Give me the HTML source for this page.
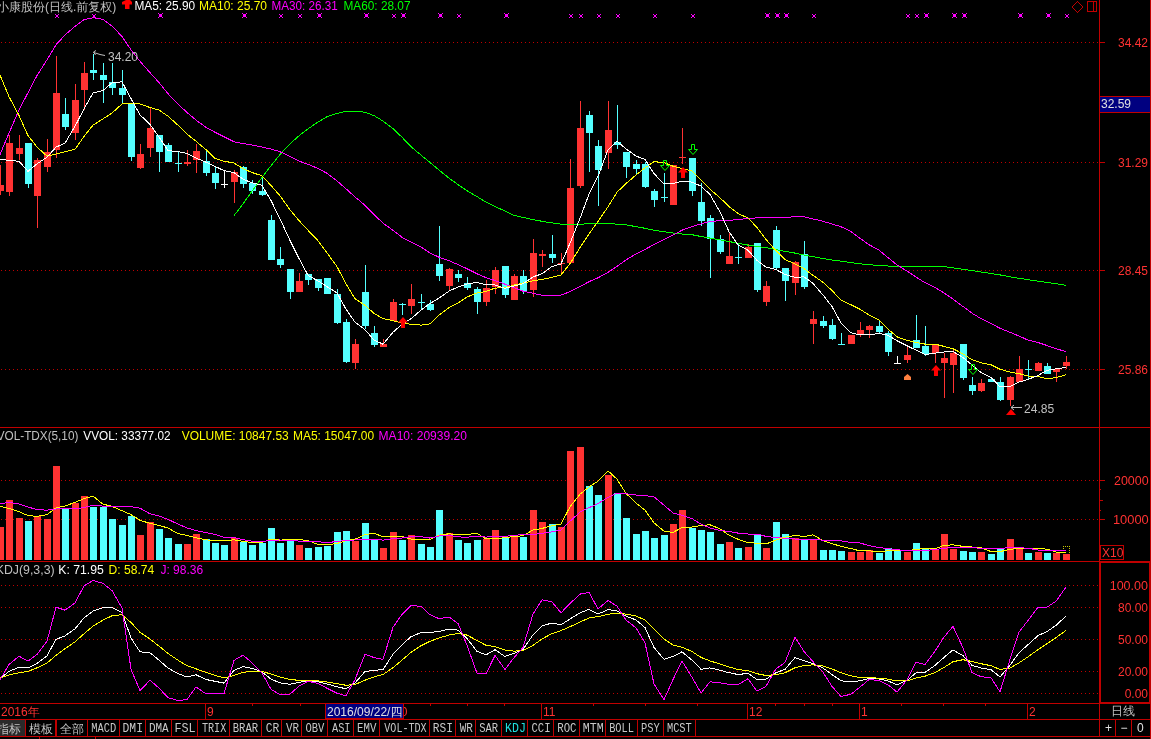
<!DOCTYPE html>
<html><head><meta charset="utf-8"><title>小康股份</title>
<style>
html,body{margin:0;padding:0;background:#000;}
body{width:1151px;height:739px;overflow:hidden;position:relative;}
svg{position:absolute;left:0;top:0;display:block;}
text{-webkit-font-smoothing:antialiased;font-family:"Liberation Sans","WenQuanYi Zen Hei",sans-serif;font-size:12px;}
.cjk,.cjk text{-webkit-font-smoothing:antialiased;font-family:"Liberation Sans","WenQuanYi Zen Hei",sans-serif;}
.tab text{-webkit-font-smoothing:antialiased;font-family:"Liberation Mono","WenQuanYi Zen Hei",monospace;font-size:10px;}
</style></head><body>
<svg width="1151" height="739" viewBox="0 0 1151 739">
<rect x="0" y="0" width="1151" height="739" fill="#000"/>
<g shape-rendering="crispEdges">
<line x1="1" y1="42.5" x2="1099" y2="42.5" stroke="#c00000" stroke-dasharray="1 3"/>
<line x1="1" y1="162.5" x2="1099" y2="162.5" stroke="#c00000" stroke-dasharray="1 3"/>
<line x1="1" y1="270.5" x2="1099" y2="270.5" stroke="#c00000" stroke-dasharray="1 3"/>
<line x1="1" y1="369.5" x2="1099" y2="369.5" stroke="#c00000" stroke-dasharray="1 3"/>
<rect x="0" y="165" width="1" height="30" fill="#ff3232"/>
<rect x="-3" y="185" width="7" height="6" fill="#ff3232"/>
<rect x="9" y="135" width="1" height="61" fill="#ff3232"/>
<rect x="6" y="143" width="7" height="49" fill="#ff3232"/>
<rect x="19" y="135" width="1" height="25" fill="#ff3232"/>
<rect x="16" y="148" width="7" height="6" fill="#ff3232"/>
<rect x="28" y="143" width="1" height="45" fill="#54ffff"/>
<rect x="25" y="143" width="7" height="41" fill="#54ffff"/>
<rect x="37" y="158" width="1" height="70" fill="#ff3232"/>
<rect x="34" y="160" width="7" height="36" fill="#ff3232"/>
<rect x="47" y="139" width="1" height="33" fill="#ff3232"/>
<rect x="44" y="152" width="7" height="15" fill="#ff3232"/>
<rect x="56" y="56" width="1" height="102" fill="#ff3232"/>
<rect x="53" y="93" width="7" height="57" fill="#ff3232"/>
<rect x="65" y="98" width="1" height="32" fill="#54ffff"/>
<rect x="62" y="114" width="7" height="13" fill="#54ffff"/>
<rect x="75" y="84" width="1" height="56" fill="#ff3232"/>
<rect x="72" y="100" width="7" height="33" fill="#ff3232"/>
<rect x="84" y="62" width="1" height="48" fill="#ff3232"/>
<rect x="81" y="73" width="7" height="17" fill="#ff3232"/>
<rect x="93" y="54" width="1" height="26" fill="#54ffff"/>
<rect x="90" y="70" width="7" height="3" fill="#54ffff"/>
<rect x="103" y="63" width="1" height="40" fill="#54ffff"/>
<rect x="100" y="75" width="7" height="5" fill="#54ffff"/>
<rect x="112" y="63" width="1" height="32" fill="#54ffff"/>
<rect x="109" y="82" width="7" height="6" fill="#54ffff"/>
<rect x="122" y="70" width="1" height="34" fill="#54ffff"/>
<rect x="119" y="88" width="7" height="7" fill="#54ffff"/>
<rect x="131" y="104" width="1" height="57" fill="#54ffff"/>
<rect x="128" y="104" width="7" height="53" fill="#54ffff"/>
<rect x="140" y="144" width="1" height="25" fill="#ff3232"/>
<rect x="137" y="154" width="7" height="14" fill="#ff3232"/>
<rect x="150" y="107" width="1" height="50" fill="#ff3232"/>
<rect x="147" y="128" width="7" height="20" fill="#ff3232"/>
<rect x="159" y="135" width="1" height="37" fill="#54ffff"/>
<rect x="156" y="135" width="7" height="17" fill="#54ffff"/>
<rect x="168" y="143" width="1" height="19" fill="#54ffff"/>
<rect x="165" y="145" width="7" height="17" fill="#54ffff"/>
<rect x="178" y="152" width="1" height="20" fill="#54ffff"/>
<rect x="175" y="163" width="7" height="1" fill="#54ffff"/>
<rect x="187" y="150" width="1" height="16" fill="#ff3232"/>
<rect x="184" y="162" width="7" height="2" fill="#ff3232"/>
<rect x="196" y="144" width="1" height="29" fill="#ff3232"/>
<rect x="193" y="151" width="7" height="9" fill="#ff3232"/>
<rect x="206" y="151" width="1" height="25" fill="#54ffff"/>
<rect x="203" y="161" width="7" height="12" fill="#54ffff"/>
<rect x="215" y="167" width="1" height="22" fill="#54ffff"/>
<rect x="212" y="173" width="7" height="10" fill="#54ffff"/>
<rect x="224" y="170" width="1" height="18" fill="#ffffff"/>
<rect x="221" y="184" width="7" height="1" fill="#ffffff"/>
<rect x="234" y="170" width="1" height="33" fill="#ff3232"/>
<rect x="231" y="172" width="7" height="10" fill="#ff3232"/>
<rect x="243" y="166" width="1" height="22" fill="#54ffff"/>
<rect x="240" y="167" width="7" height="17" fill="#54ffff"/>
<rect x="252" y="180" width="1" height="14" fill="#54ffff"/>
<rect x="249" y="183" width="7" height="8" fill="#54ffff"/>
<rect x="262" y="177" width="1" height="19" fill="#54ffff"/>
<rect x="259" y="191" width="7" height="4" fill="#54ffff"/>
<rect x="271" y="215" width="1" height="45" fill="#54ffff"/>
<rect x="268" y="220" width="7" height="40" fill="#54ffff"/>
<rect x="280" y="247" width="1" height="21" fill="#54ffff"/>
<rect x="277" y="259" width="7" height="6" fill="#54ffff"/>
<rect x="290" y="269" width="1" height="30" fill="#54ffff"/>
<rect x="287" y="269" width="7" height="23" fill="#54ffff"/>
<rect x="299" y="273" width="1" height="19" fill="#ff3232"/>
<rect x="296" y="281" width="7" height="11" fill="#ff3232"/>
<rect x="308" y="274" width="1" height="11" fill="#54ffff"/>
<rect x="305" y="274" width="7" height="6" fill="#54ffff"/>
<rect x="318" y="279" width="1" height="12" fill="#54ffff"/>
<rect x="315" y="279" width="7" height="9" fill="#54ffff"/>
<rect x="327" y="278" width="1" height="16" fill="#54ffff"/>
<rect x="324" y="278" width="7" height="16" fill="#54ffff"/>
<rect x="337" y="289" width="1" height="35" fill="#54ffff"/>
<rect x="334" y="294" width="7" height="29" fill="#54ffff"/>
<rect x="346" y="319" width="1" height="44" fill="#54ffff"/>
<rect x="343" y="322" width="7" height="40" fill="#54ffff"/>
<rect x="355" y="339" width="1" height="30" fill="#ff3232"/>
<rect x="352" y="344" width="7" height="19" fill="#ff3232"/>
<rect x="365" y="265" width="1" height="64" fill="#54ffff"/>
<rect x="362" y="292" width="7" height="34" fill="#54ffff"/>
<rect x="374" y="326" width="1" height="21" fill="#54ffff"/>
<rect x="371" y="333" width="7" height="12" fill="#54ffff"/>
<rect x="383" y="339" width="1" height="8" fill="#ff3232"/>
<rect x="380" y="344" width="7" height="3" fill="#ff3232"/>
<rect x="393" y="299" width="1" height="22" fill="#ff3232"/>
<rect x="390" y="302" width="7" height="19" fill="#ff3232"/>
<rect x="402" y="303" width="1" height="12" fill="#54ffff"/>
<rect x="399" y="304" width="7" height="1" fill="#54ffff"/>
<rect x="411" y="284" width="1" height="30" fill="#ff3232"/>
<rect x="408" y="299" width="7" height="7" fill="#ff3232"/>
<rect x="421" y="294" width="1" height="16" fill="#54ffff"/>
<rect x="418" y="302" width="7" height="1" fill="#54ffff"/>
<rect x="430" y="300" width="1" height="11" fill="#54ffff"/>
<rect x="427" y="304" width="7" height="6" fill="#54ffff"/>
<rect x="439" y="226" width="1" height="55" fill="#54ffff"/>
<rect x="436" y="264" width="7" height="12" fill="#54ffff"/>
<rect x="449" y="268" width="1" height="22" fill="#ff3232"/>
<rect x="446" y="269" width="7" height="17" fill="#ff3232"/>
<rect x="458" y="270" width="1" height="12" fill="#54ffff"/>
<rect x="455" y="274" width="7" height="4" fill="#54ffff"/>
<rect x="467" y="277" width="1" height="13" fill="#54ffff"/>
<rect x="464" y="283" width="7" height="5" fill="#54ffff"/>
<rect x="477" y="287" width="1" height="27" fill="#54ffff"/>
<rect x="474" y="289" width="7" height="13" fill="#54ffff"/>
<rect x="486" y="280" width="1" height="26" fill="#ff3232"/>
<rect x="483" y="288" width="7" height="14" fill="#ff3232"/>
<rect x="495" y="267" width="1" height="27" fill="#ff3232"/>
<rect x="492" y="270" width="7" height="17" fill="#ff3232"/>
<rect x="505" y="266" width="1" height="32" fill="#54ffff"/>
<rect x="502" y="266" width="7" height="29" fill="#54ffff"/>
<rect x="514" y="274" width="1" height="26" fill="#ff3232"/>
<rect x="511" y="276" width="7" height="24" fill="#ff3232"/>
<rect x="523" y="270" width="1" height="24" fill="#54ffff"/>
<rect x="520" y="276" width="7" height="15" fill="#54ffff"/>
<rect x="533" y="239" width="1" height="58" fill="#ff3232"/>
<rect x="530" y="253" width="7" height="37" fill="#ff3232"/>
<rect x="542" y="250" width="1" height="17" fill="#ff3232"/>
<rect x="539" y="254" width="7" height="2" fill="#ff3232"/>
<rect x="552" y="235" width="1" height="28" fill="#54ffff"/>
<rect x="549" y="254" width="7" height="4" fill="#54ffff"/>
<rect x="561" y="253" width="1" height="20" fill="#ff3232"/>
<rect x="558" y="263" width="7" height="1" fill="#ff3232"/>
<rect x="570" y="159" width="1" height="104" fill="#ff3232"/>
<rect x="567" y="188" width="7" height="75" fill="#ff3232"/>
<rect x="580" y="101" width="1" height="87" fill="#ff3232"/>
<rect x="577" y="128" width="7" height="58" fill="#ff3232"/>
<rect x="589" y="111" width="1" height="61" fill="#54ffff"/>
<rect x="586" y="115" width="7" height="18" fill="#54ffff"/>
<rect x="598" y="140" width="1" height="66" fill="#54ffff"/>
<rect x="595" y="146" width="7" height="24" fill="#54ffff"/>
<rect x="608" y="101" width="1" height="68" fill="#ff3232"/>
<rect x="605" y="130" width="7" height="23" fill="#ff3232"/>
<rect x="617" y="105" width="1" height="44" fill="#54ffff"/>
<rect x="614" y="142" width="7" height="3" fill="#54ffff"/>
<rect x="626" y="152" width="1" height="26" fill="#54ffff"/>
<rect x="623" y="152" width="7" height="15" fill="#54ffff"/>
<rect x="636" y="160" width="1" height="15" fill="#54ffff"/>
<rect x="633" y="164" width="7" height="5" fill="#54ffff"/>
<rect x="645" y="162" width="1" height="26" fill="#54ffff"/>
<rect x="642" y="164" width="7" height="23" fill="#54ffff"/>
<rect x="654" y="189" width="1" height="18" fill="#54ffff"/>
<rect x="651" y="191" width="7" height="9" fill="#54ffff"/>
<rect x="664" y="173" width="1" height="29" fill="#54ffff"/>
<rect x="661" y="197" width="7" height="1" fill="#54ffff"/>
<rect x="673" y="165" width="1" height="40" fill="#ff3232"/>
<rect x="670" y="165" width="7" height="40" fill="#ff3232"/>
<rect x="682" y="128" width="1" height="36" fill="#ff3232"/>
<rect x="679" y="157" width="7" height="1" fill="#ff3232"/>
<rect x="692" y="158" width="1" height="38" fill="#54ffff"/>
<rect x="689" y="158" width="7" height="33" fill="#54ffff"/>
<rect x="701" y="183" width="1" height="43" fill="#54ffff"/>
<rect x="698" y="202" width="7" height="19" fill="#54ffff"/>
<rect x="710" y="215" width="1" height="63" fill="#54ffff"/>
<rect x="707" y="218" width="7" height="21" fill="#54ffff"/>
<rect x="720" y="235" width="1" height="19" fill="#54ffff"/>
<rect x="717" y="239" width="7" height="13" fill="#54ffff"/>
<rect x="729" y="233" width="1" height="31" fill="#ff3232"/>
<rect x="726" y="256" width="7" height="8" fill="#ff3232"/>
<rect x="738" y="244" width="1" height="20" fill="#54ffff"/>
<rect x="735" y="257" width="7" height="1" fill="#54ffff"/>
<rect x="748" y="244" width="1" height="14" fill="#ff3232"/>
<rect x="745" y="247" width="7" height="11" fill="#ff3232"/>
<rect x="757" y="243" width="1" height="49" fill="#54ffff"/>
<rect x="754" y="243" width="7" height="47" fill="#54ffff"/>
<rect x="766" y="281" width="1" height="25" fill="#ff3232"/>
<rect x="763" y="286" width="7" height="16" fill="#ff3232"/>
<rect x="776" y="226" width="1" height="44" fill="#54ffff"/>
<rect x="773" y="230" width="7" height="38" fill="#54ffff"/>
<rect x="785" y="268" width="1" height="33" fill="#54ffff"/>
<rect x="782" y="268" width="7" height="13" fill="#54ffff"/>
<rect x="795" y="261" width="1" height="34" fill="#ff3232"/>
<rect x="792" y="262" width="7" height="21" fill="#ff3232"/>
<rect x="804" y="241" width="1" height="48" fill="#54ffff"/>
<rect x="801" y="254" width="7" height="33" fill="#54ffff"/>
<rect x="813" y="311" width="1" height="33" fill="#ff3232"/>
<rect x="810" y="319" width="7" height="5" fill="#ff3232"/>
<rect x="823" y="316" width="1" height="12" fill="#54ffff"/>
<rect x="820" y="321" width="7" height="5" fill="#54ffff"/>
<rect x="832" y="319" width="1" height="21" fill="#54ffff"/>
<rect x="829" y="325" width="7" height="14" fill="#54ffff"/>
<rect x="841" y="333" width="1" height="12" fill="#54ffff"/>
<rect x="838" y="344" width="7" height="1" fill="#54ffff"/>
<rect x="851" y="335" width="1" height="9" fill="#ff3232"/>
<rect x="848" y="335" width="7" height="9" fill="#ff3232"/>
<rect x="860" y="322" width="1" height="15" fill="#ff3232"/>
<rect x="857" y="330" width="7" height="5" fill="#ff3232"/>
<rect x="869" y="325" width="1" height="13" fill="#ff3232"/>
<rect x="866" y="326" width="7" height="4" fill="#ff3232"/>
<rect x="879" y="321" width="1" height="12" fill="#54ffff"/>
<rect x="876" y="326" width="7" height="6" fill="#54ffff"/>
<rect x="888" y="331" width="1" height="25" fill="#54ffff"/>
<rect x="885" y="333" width="7" height="19" fill="#54ffff"/>
<rect x="897" y="356" width="1" height="8" fill="#ffffff"/>
<rect x="894" y="363" width="7" height="1" fill="#ffffff"/>
<rect x="907" y="346" width="1" height="17" fill="#ff3232"/>
<rect x="904" y="355" width="7" height="5" fill="#ff3232"/>
<rect x="916" y="315" width="1" height="33" fill="#54ffff"/>
<rect x="913" y="340" width="7" height="8" fill="#54ffff"/>
<rect x="925" y="326" width="1" height="30" fill="#54ffff"/>
<rect x="922" y="346" width="7" height="8" fill="#54ffff"/>
<rect x="935" y="345" width="1" height="18" fill="#ff3232"/>
<rect x="932" y="345" width="7" height="8" fill="#ff3232"/>
<rect x="944" y="353" width="1" height="45" fill="#ff3232"/>
<rect x="941" y="358" width="7" height="5" fill="#ff3232"/>
<rect x="953" y="350" width="1" height="43" fill="#ff3232"/>
<rect x="950" y="353" width="7" height="12" fill="#ff3232"/>
<rect x="963" y="344" width="1" height="36" fill="#54ffff"/>
<rect x="960" y="344" width="7" height="34" fill="#54ffff"/>
<rect x="972" y="377" width="1" height="18" fill="#54ffff"/>
<rect x="969" y="385" width="7" height="6" fill="#54ffff"/>
<rect x="981" y="379" width="1" height="13" fill="#ff3232"/>
<rect x="978" y="383" width="7" height="8" fill="#ff3232"/>
<rect x="991" y="378" width="1" height="4" fill="#54ffff"/>
<rect x="988" y="379" width="7" height="3" fill="#54ffff"/>
<rect x="1000" y="377" width="1" height="24" fill="#54ffff"/>
<rect x="997" y="382" width="7" height="18" fill="#54ffff"/>
<rect x="1010" y="376" width="1" height="30" fill="#ff3232"/>
<rect x="1007" y="377" width="7" height="23" fill="#ff3232"/>
<rect x="1019" y="356" width="1" height="26" fill="#ff3232"/>
<rect x="1016" y="369" width="7" height="13" fill="#ff3232"/>
<rect x="1028" y="360" width="1" height="20" fill="#54ffff"/>
<rect x="1025" y="369" width="7" height="1" fill="#54ffff"/>
<rect x="1038" y="362" width="1" height="9" fill="#ff3232"/>
<rect x="1035" y="363" width="7" height="8" fill="#ff3232"/>
<rect x="1047" y="363" width="1" height="11" fill="#54ffff"/>
<rect x="1044" y="366" width="7" height="8" fill="#54ffff"/>
<rect x="1056" y="369" width="1" height="13" fill="#ff3232"/>
<rect x="1053" y="369" width="7" height="3" fill="#ff3232"/>
<rect x="1066" y="356" width="1" height="13" fill="#ff3232"/>
<rect x="1063" y="362" width="7" height="4" fill="#ff3232"/>
<polyline points="234.0,215.6 243.0,203.9 252.0,191.2 262.0,177.4 271.0,165.7 280.0,154.5 290.0,143.8 299.0,135.8 308.0,128.9 318.0,122.0 327.0,116.7 337.0,113.4 346.0,111.4 355.0,111.4 365.0,112.2 374.0,115.6 383.0,121.0 393.0,128.7 402.0,137.2 411.0,146.7 421.0,155.1 430.0,162.5 439.0,170.1 449.0,178.1 458.0,184.6 467.0,190.7 477.0,196.6 486.0,202.1 495.0,206.5 505.0,211.1 514.0,215.3 523.0,217.4 533.0,219.6 542.0,221.3 552.0,222.9 561.0,224.1 570.0,224.6 580.0,224.4 589.0,223.6 598.0,223.5 608.0,223.7 617.0,224.1 626.0,224.9 636.0,226.6 645.0,228.3 654.0,230.2 664.0,231.8 673.0,233.0 682.0,234.0 692.0,234.7 701.0,236.5 710.0,238.1 720.0,239.8 729.0,241.5 738.0,243.3 748.0,245.1 757.0,246.4 766.0,247.7 776.0,249.6 785.0,251.4 795.0,253.1 804.0,255.0 813.0,256.7 823.0,258.5 832.0,260.0 841.0,261.2 851.0,262.6 860.0,263.8 869.0,264.7 879.0,265.5 888.0,266.0 897.0,266.3 907.0,266.3 916.0,266.3 925.0,266.3 935.0,266.3 944.0,266.7 953.0,267.8 963.0,269.3 972.0,270.6 981.0,272.0 991.0,273.5 1000.0,274.9 1010.0,276.8 1019.0,278.3 1028.0,279.7 1038.0,281.1 1047.0,282.4 1056.0,283.7 1066.0,285.3" fill="none" stroke="#00ff00" stroke-width="1" />
<polyline points="-6.0,168.7 0.0,154.5 9.0,133.1 19.0,109.9 28.0,92.7 37.0,75.6 47.0,59.8 56.0,44.8 65.0,35.0 75.0,26.4 84.0,19.6 93.0,17.7 103.0,19.4 112.0,26.1 122.0,36.4 131.0,49.8 140.0,61.3 150.0,72.7 159.0,82.6 168.0,93.7 178.0,104.1 187.0,112.5 196.0,120.1 206.0,127.3 215.0,132.3 224.0,136.8 234.0,141.8 243.0,143.5 252.0,145.0 262.0,147.1 271.0,149.0 280.0,151.7 290.0,156.6 299.0,161.1 308.0,164.3 318.0,168.5 327.0,173.3 337.0,180.9 346.0,188.8 355.0,196.9 365.0,205.3 374.0,214.4 383.0,223.2 393.0,230.3 402.0,237.3 411.0,242.0 421.0,247.0 430.0,253.0 439.0,257.2 449.0,260.7 458.0,264.6 467.0,268.7 477.0,273.8 486.0,277.6 495.0,280.5 505.0,284.2 514.0,287.6 523.0,291.2 533.0,293.3 542.0,295.2 552.0,295.2 561.0,295.1 570.0,291.7 580.0,286.6 589.0,281.7 598.0,277.8 608.0,272.3 617.0,266.4 626.0,259.9 636.0,254.0 645.0,249.4 654.0,244.6 664.0,239.7 673.0,235.1 682.0,230.2 692.0,226.6 701.0,223.9 710.0,221.5 720.0,220.7 729.0,220.3 738.0,219.6 748.0,218.3 757.0,217.9 766.0,217.8 776.0,217.7 785.0,217.3 795.0,216.8 804.0,216.7 813.0,218.9 823.0,221.3 832.0,224.0 841.0,226.7 851.0,231.6 860.0,238.3 869.0,244.7 879.0,250.2 888.0,257.6 897.0,264.9 907.0,271.1 916.0,277.1 925.0,282.7 935.0,287.5 944.0,292.9 953.0,299.1 963.0,306.5 972.0,313.2 981.0,318.6 991.0,323.4 1000.0,328.3 1010.0,332.3 1019.0,336.0 1028.0,340.1 1038.0,342.5 1047.0,345.5 1056.0,348.8 1066.0,351.5" fill="none" stroke="#ff00ff" stroke-width="1" />
<polyline points="-6.0,62.0 0.0,75.0 9.0,96.7 19.0,115.4 28.0,135.6 37.0,147.0 47.0,156.1 56.0,154.1 65.0,151.8 75.0,149.3 84.0,136.4 93.0,125.2 103.0,118.9 112.0,113.0 122.0,104.0 131.0,103.7 140.0,104.0 150.0,107.5 159.0,110.0 168.0,116.2 178.0,125.2 187.0,134.1 196.0,141.2 206.0,149.7 215.0,158.4 224.0,161.2 234.0,163.0 243.0,168.6 252.0,172.5 262.0,175.8 271.0,185.5 280.0,195.8 290.0,209.8 299.0,220.6 308.0,230.3 318.0,240.7 327.0,252.8 337.0,266.7 346.0,283.8 355.0,298.7 365.0,305.3 374.0,313.3 383.0,318.6 393.0,320.7 402.0,323.1 411.0,324.2 421.0,325.1 430.0,323.8 439.0,315.2 449.0,307.7 458.0,302.9 467.0,297.1 477.0,292.9 486.0,291.5 495.0,288.1 505.0,287.7 514.0,285.0 523.0,283.1 533.0,280.8 542.0,279.4 552.0,277.4 561.0,274.9 570.0,263.6 580.0,247.6 589.0,233.9 598.0,221.4 608.0,206.8 617.0,192.2 626.0,183.6 636.0,175.0 645.0,167.9 654.0,161.7 664.0,162.6 673.0,166.2 682.0,168.6 692.0,170.8 701.0,179.9 710.0,189.2 720.0,197.8 729.0,206.5 738.0,213.5 748.0,218.1 757.0,227.4 766.0,239.5 776.0,250.7 785.0,259.6 795.0,263.8 804.0,268.6 813.0,275.3 823.0,282.3 832.0,290.5 841.0,300.2 851.0,304.8 860.0,309.2 869.0,315.0 879.0,320.1 888.0,329.1 897.0,336.8 907.0,340.4 916.0,342.5 925.0,344.1 935.0,344.1 944.0,346.4 953.0,348.7 963.0,353.9 972.0,359.8 981.0,362.8 991.0,364.7 1000.0,369.2 1010.0,372.1 1019.0,373.6 1028.0,376.0 1038.0,376.5 1047.0,378.6 1056.0,377.7 1066.0,374.8" fill="none" stroke="#ffff00" stroke-width="1" />
<polyline points="-6.0,158.5 0.0,159.1 9.0,160.5 19.0,161.2 28.0,171.4 37.0,163.9 47.0,157.2 56.0,147.2 65.0,143.1 75.0,126.3 84.0,108.9 93.0,93.1 103.0,90.5 112.0,82.8 122.0,81.8 131.0,98.6 140.0,114.8 150.0,124.4 159.0,137.1 168.0,150.5 178.0,151.7 187.0,153.4 196.0,158.0 206.0,162.2 215.0,166.4 224.0,170.6 234.0,172.6 243.0,179.2 252.0,182.8 262.0,185.3 271.0,200.5 280.0,218.9 290.0,240.4 299.0,258.4 308.0,275.3 318.0,280.9 327.0,286.6 337.0,292.9 346.0,309.2 355.0,322.1 365.0,329.7 374.0,340.0 383.0,344.2 393.0,332.2 402.0,324.2 411.0,318.7 421.0,310.2 430.0,303.4 439.0,298.2 449.0,291.1 458.0,287.0 467.0,284.0 477.0,282.4 486.0,284.8 495.0,285.0 505.0,288.3 514.0,286.0 523.0,283.8 533.0,276.9 542.0,273.8 552.0,266.5 561.0,263.9 570.0,243.3 580.0,218.4 589.0,194.1 598.0,176.4 608.0,149.7 617.0,141.2 626.0,148.9 636.0,156.0 645.0,159.5 654.0,173.6 664.0,184.0 673.0,183.6 682.0,181.3 692.0,182.1 701.0,186.1 710.0,194.4 720.0,211.9 729.0,231.7 738.0,244.9 748.0,250.2 757.0,260.4 766.0,267.1 776.0,269.6 785.0,274.4 795.0,277.4 804.0,276.8 813.0,283.4 823.0,295.0 832.0,306.6 841.0,323.0 851.0,332.7 860.0,334.9 869.0,334.9 879.0,333.5 888.0,335.2 897.0,340.8 907.0,345.8 916.0,350.1 925.0,354.6 935.0,353.1 944.0,352.0 953.0,351.5 963.0,357.6 972.0,365.0 981.0,372.5 991.0,377.4 1000.0,386.8 1010.0,386.6 1019.0,382.1 1028.0,379.4 1038.0,375.5 1047.0,370.3 1056.0,368.8 1066.0,367.4" fill="none" stroke="#ffffff" stroke-width="1" />
<line x1="1" y1="480.5" x2="1099" y2="480.5" stroke="#c00000" stroke-dasharray="1 3"/>
<line x1="1" y1="519.5" x2="1099" y2="519.5" stroke="#c00000" stroke-dasharray="1 3"/>
<rect x="-3" y="527" width="7" height="33" fill="#ff3232"/>
<rect x="6" y="500" width="7" height="60" fill="#ff3232"/>
<rect x="16" y="518" width="7" height="42" fill="#ff3232"/>
<rect x="25" y="521" width="7" height="39" fill="#54ffff"/>
<rect x="34" y="516" width="7" height="44" fill="#ff3232"/>
<rect x="44" y="519" width="7" height="41" fill="#ff3232"/>
<rect x="53" y="466" width="7" height="94" fill="#ff3232"/>
<rect x="62" y="509" width="7" height="51" fill="#54ffff"/>
<rect x="72" y="503" width="7" height="57" fill="#ff3232"/>
<rect x="81" y="496" width="7" height="64" fill="#ff3232"/>
<rect x="90" y="507" width="7" height="53" fill="#54ffff"/>
<rect x="100" y="507" width="7" height="53" fill="#54ffff"/>
<rect x="109" y="519" width="7" height="41" fill="#54ffff"/>
<rect x="119" y="525" width="7" height="35" fill="#54ffff"/>
<rect x="128" y="516" width="7" height="44" fill="#54ffff"/>
<rect x="137" y="535" width="7" height="25" fill="#ff3232"/>
<rect x="147" y="522" width="7" height="38" fill="#ff3232"/>
<rect x="156" y="529" width="7" height="31" fill="#54ffff"/>
<rect x="165" y="538" width="7" height="22" fill="#54ffff"/>
<rect x="175" y="544" width="7" height="16" fill="#54ffff"/>
<rect x="184" y="544" width="7" height="16" fill="#ff3232"/>
<rect x="193" y="534" width="7" height="26" fill="#ff3232"/>
<rect x="203" y="539" width="7" height="21" fill="#54ffff"/>
<rect x="212" y="543" width="7" height="17" fill="#54ffff"/>
<rect x="221" y="545" width="7" height="15" fill="#54ffff"/>
<rect x="231" y="538" width="7" height="22" fill="#ff3232"/>
<rect x="240" y="542" width="7" height="18" fill="#54ffff"/>
<rect x="249" y="545" width="7" height="15" fill="#54ffff"/>
<rect x="259" y="543" width="7" height="17" fill="#54ffff"/>
<rect x="268" y="528" width="7" height="32" fill="#54ffff"/>
<rect x="277" y="543" width="7" height="17" fill="#54ffff"/>
<rect x="287" y="539" width="7" height="21" fill="#54ffff"/>
<rect x="296" y="545" width="7" height="15" fill="#ff3232"/>
<rect x="305" y="548" width="7" height="12" fill="#54ffff"/>
<rect x="315" y="547" width="7" height="13" fill="#54ffff"/>
<rect x="324" y="546" width="7" height="14" fill="#54ffff"/>
<rect x="334" y="532" width="7" height="28" fill="#54ffff"/>
<rect x="343" y="531" width="7" height="29" fill="#54ffff"/>
<rect x="352" y="541" width="7" height="19" fill="#ff3232"/>
<rect x="362" y="523" width="7" height="37" fill="#54ffff"/>
<rect x="371" y="540" width="7" height="20" fill="#54ffff"/>
<rect x="380" y="548" width="7" height="12" fill="#ff3232"/>
<rect x="390" y="532" width="7" height="28" fill="#ff3232"/>
<rect x="399" y="540" width="7" height="20" fill="#54ffff"/>
<rect x="408" y="535" width="7" height="25" fill="#ff3232"/>
<rect x="418" y="544" width="7" height="16" fill="#54ffff"/>
<rect x="427" y="547" width="7" height="13" fill="#54ffff"/>
<rect x="436" y="510" width="7" height="50" fill="#54ffff"/>
<rect x="446" y="533" width="7" height="27" fill="#ff3232"/>
<rect x="455" y="540" width="7" height="20" fill="#54ffff"/>
<rect x="464" y="543" width="7" height="17" fill="#54ffff"/>
<rect x="474" y="540" width="7" height="20" fill="#54ffff"/>
<rect x="483" y="539" width="7" height="21" fill="#ff3232"/>
<rect x="492" y="530" width="7" height="30" fill="#ff3232"/>
<rect x="502" y="537" width="7" height="23" fill="#54ffff"/>
<rect x="511" y="536" width="7" height="24" fill="#ff3232"/>
<rect x="520" y="537" width="7" height="23" fill="#54ffff"/>
<rect x="530" y="510" width="7" height="50" fill="#ff3232"/>
<rect x="539" y="522" width="7" height="38" fill="#ff3232"/>
<rect x="549" y="524" width="7" height="36" fill="#54ffff"/>
<rect x="558" y="527" width="7" height="33" fill="#ff3232"/>
<rect x="567" y="451" width="7" height="109" fill="#ff3232"/>
<rect x="577" y="447" width="7" height="113" fill="#ff3232"/>
<rect x="586" y="486" width="7" height="74" fill="#54ffff"/>
<rect x="595" y="495" width="7" height="65" fill="#54ffff"/>
<rect x="605" y="475" width="7" height="85" fill="#ff3232"/>
<rect x="614" y="493" width="7" height="67" fill="#54ffff"/>
<rect x="623" y="518" width="7" height="42" fill="#54ffff"/>
<rect x="633" y="534" width="7" height="26" fill="#54ffff"/>
<rect x="642" y="531" width="7" height="29" fill="#54ffff"/>
<rect x="651" y="538" width="7" height="22" fill="#54ffff"/>
<rect x="661" y="535" width="7" height="25" fill="#54ffff"/>
<rect x="670" y="524" width="7" height="36" fill="#ff3232"/>
<rect x="679" y="510" width="7" height="50" fill="#ff3232"/>
<rect x="689" y="528" width="7" height="32" fill="#54ffff"/>
<rect x="698" y="530" width="7" height="30" fill="#54ffff"/>
<rect x="707" y="532" width="7" height="28" fill="#54ffff"/>
<rect x="717" y="544" width="7" height="16" fill="#54ffff"/>
<rect x="726" y="542" width="7" height="18" fill="#ff3232"/>
<rect x="735" y="548" width="7" height="12" fill="#54ffff"/>
<rect x="745" y="547" width="7" height="13" fill="#ff3232"/>
<rect x="754" y="535" width="7" height="25" fill="#54ffff"/>
<rect x="763" y="548" width="7" height="12" fill="#ff3232"/>
<rect x="773" y="522" width="7" height="38" fill="#54ffff"/>
<rect x="782" y="534" width="7" height="26" fill="#54ffff"/>
<rect x="792" y="538" width="7" height="22" fill="#ff3232"/>
<rect x="801" y="540" width="7" height="20" fill="#54ffff"/>
<rect x="810" y="540" width="7" height="20" fill="#ff3232"/>
<rect x="820" y="550" width="7" height="10" fill="#54ffff"/>
<rect x="829" y="550" width="7" height="10" fill="#54ffff"/>
<rect x="838" y="551" width="7" height="9" fill="#54ffff"/>
<rect x="848" y="552" width="7" height="8" fill="#ff3232"/>
<rect x="857" y="552" width="7" height="8" fill="#ff3232"/>
<rect x="866" y="550" width="7" height="10" fill="#ff3232"/>
<rect x="876" y="553" width="7" height="7" fill="#54ffff"/>
<rect x="885" y="548" width="7" height="12" fill="#54ffff"/>
<rect x="894" y="551" width="7" height="9" fill="#54ffff"/>
<rect x="904" y="552" width="7" height="8" fill="#ff3232"/>
<rect x="913" y="543" width="7" height="17" fill="#54ffff"/>
<rect x="922" y="549" width="7" height="11" fill="#54ffff"/>
<rect x="932" y="549" width="7" height="11" fill="#ff3232"/>
<rect x="941" y="534" width="7" height="26" fill="#ff3232"/>
<rect x="950" y="549" width="7" height="11" fill="#ff3232"/>
<rect x="960" y="551" width="7" height="9" fill="#54ffff"/>
<rect x="969" y="552" width="7" height="8" fill="#54ffff"/>
<rect x="978" y="552" width="7" height="8" fill="#ff3232"/>
<rect x="988" y="554" width="7" height="6" fill="#54ffff"/>
<rect x="997" y="549" width="7" height="11" fill="#54ffff"/>
<rect x="1007" y="539" width="7" height="21" fill="#ff3232"/>
<rect x="1016" y="549" width="7" height="11" fill="#ff3232"/>
<rect x="1025" y="553" width="7" height="7" fill="#54ffff"/>
<rect x="1035" y="552" width="7" height="8" fill="#ff3232"/>
<rect x="1044" y="553" width="7" height="7" fill="#54ffff"/>
<rect x="1053" y="553" width="7" height="7" fill="#ff3232"/>
<rect x="1063" y="554" width="7" height="6" fill="#ff3232"/>
<polyline points="-6.0,506.0 0.0,506.4 9.0,508.4 19.0,511.6 28.0,515.6 37.0,516.3 47.0,514.7 56.0,507.9 65.0,506.0 75.0,502.4 84.0,498.6 93.0,496.1 103.0,504.2 112.0,506.3 122.0,510.7 131.0,514.6 140.0,520.3 150.0,523.4 159.0,525.4 168.0,528.0 178.0,533.6 187.0,535.4 196.0,537.8 206.0,539.8 215.0,540.8 224.0,541.0 234.0,539.8 243.0,541.3 252.0,542.5 262.0,542.5 271.0,539.1 280.0,540.1 290.0,539.6 299.0,539.6 308.0,540.6 318.0,544.4 327.0,544.9 337.0,543.5 346.0,540.7 355.0,539.3 365.0,534.5 374.0,533.4 383.0,536.6 393.0,536.8 402.0,536.6 411.0,539.0 421.0,539.8 430.0,539.6 439.0,535.2 449.0,533.8 458.0,534.8 467.0,534.6 477.0,533.2 486.0,539.0 495.0,538.4 505.0,537.8 514.0,536.4 523.0,535.8 533.0,530.0 542.0,528.4 552.0,525.8 561.0,524.0 570.0,506.8 580.0,494.2 589.0,487.0 598.0,481.2 608.0,470.8 617.0,479.2 626.0,493.4 636.0,503.0 645.0,510.2 654.0,522.8 664.0,531.2 673.0,532.4 682.0,527.6 692.0,527.0 701.0,525.4 710.0,524.8 720.0,528.8 729.0,535.2 738.0,539.2 748.0,542.6 757.0,543.2 766.0,544.0 776.0,540.0 785.0,537.2 795.0,535.4 804.0,536.5 813.0,534.9 823.0,540.5 832.0,543.7 841.0,546.3 851.0,548.6 860.0,550.9 869.0,550.9 879.0,551.5 888.0,550.9 897.0,550.7 907.0,550.8 916.0,549.4 925.0,548.6 935.0,548.8 944.0,545.4 953.0,544.8 963.0,546.4 972.0,547.0 981.0,547.6 991.0,551.6 1000.0,551.6 1010.0,549.2 1019.0,548.6 1028.0,548.8 1038.0,548.4 1047.0,549.2 1056.0,552.0 1066.0,553.0" fill="none" stroke="#ffff00" stroke-width="1" />
<polyline points="-6.0,503.8 0.0,503.6 9.0,502.5 19.0,503.9 28.0,507.0 37.0,509.6 47.0,510.2 56.0,509.0 65.0,508.6 75.0,508.9 84.0,507.5 93.0,505.4 103.0,506.1 112.0,506.2 122.0,506.6 131.0,506.6 140.0,508.2 150.0,513.8 159.0,515.9 168.0,519.4 178.0,524.1 187.0,527.9 196.0,530.6 206.0,532.6 215.0,534.4 224.0,537.3 234.0,537.6 243.0,539.6 252.0,541.2 262.0,541.7 271.0,540.1 280.0,540.0 290.0,540.5 299.0,541.1 308.0,541.6 318.0,541.8 327.0,542.5 337.0,541.6 346.0,540.2 355.0,540.0 365.0,539.5 374.0,539.2 383.0,540.1 393.0,538.8 402.0,538.0 411.0,536.8 421.0,536.6 430.0,538.1 439.0,536.0 449.0,535.2 458.0,536.9 467.0,537.2 477.0,536.4 486.0,537.1 495.0,536.1 505.0,536.3 514.0,535.5 523.0,534.5 533.0,534.5 542.0,533.4 552.0,531.8 561.0,530.2 570.0,521.3 580.0,512.1 589.0,507.7 598.0,503.5 608.0,497.4 617.0,493.0 626.0,493.8 636.0,495.0 645.0,495.7 654.0,496.8 664.0,505.2 673.0,512.9 682.0,515.3 692.0,518.6 701.0,524.1 710.0,528.0 720.0,530.6 729.0,531.4 738.0,533.1 748.0,534.0 757.0,534.0 766.0,536.4 776.0,537.6 785.0,538.2 795.0,539.0 804.0,539.8 813.0,539.4 823.0,540.2 832.0,540.4 841.0,540.8 851.0,542.5 860.0,542.9 869.0,545.7 879.0,547.6 888.0,548.6 897.0,549.7 907.0,550.9 916.0,550.2 925.0,550.1 935.0,549.9 944.0,548.1 953.0,547.8 963.0,547.9 972.0,547.8 981.0,548.2 991.0,548.5 1000.0,548.2 1010.0,547.8 1019.0,547.8 1028.0,548.2 1038.0,550.0 1047.0,550.4 1056.0,550.6 1066.0,550.8" fill="none" stroke="#ff00ff" stroke-width="1" />
<line x1="1" y1="585.5" x2="1099" y2="585.5" stroke="#c00000" stroke-dasharray="1 3"/>
<line x1="1" y1="607.5" x2="1099" y2="607.5" stroke="#c00000" stroke-dasharray="1 3"/>
<line x1="1" y1="639.5" x2="1099" y2="639.5" stroke="#c00000" stroke-dasharray="1 3"/>
<line x1="1" y1="671.5" x2="1099" y2="671.5" stroke="#c00000" stroke-dasharray="1 3"/>
<line x1="1" y1="693.5" x2="1099" y2="693.5" stroke="#c00000" stroke-dasharray="1 3"/>
<polyline points="0.0,678.5 9.0,671.4 19.0,667.2 28.0,668.0 37.0,663.3 47.0,655.8 56.0,639.3 65.0,635.9 75.0,628.8 84.0,617.9 93.0,611.0 103.0,607.8 112.0,607.4 122.0,612.5 131.0,638.1 140.0,651.8 150.0,652.8 159.0,660.1 168.0,668.1 178.0,673.6 187.0,677.1 196.0,674.8 206.0,679.5 215.0,681.3 224.0,683.1 234.0,670.4 243.0,666.7 252.0,668.3 262.0,672.0 271.0,679.1 280.0,682.9 290.0,684.3 299.0,682.3 308.0,680.7 318.0,681.8 327.0,684.0 337.0,686.8 346.0,688.8 355.0,682.9 365.0,671.5 374.0,670.5 383.0,669.5 393.0,654.3 402.0,644.8 411.0,636.7 421.0,632.6 430.0,632.4 439.0,631.6 449.0,629.0 458.0,630.1 467.0,638.5 477.0,651.4 486.0,654.8 495.0,649.7 505.0,656.5 514.0,653.3 523.0,649.5 533.0,634.9 542.0,625.9 552.0,623.0 561.0,624.7 570.0,619.0 580.0,612.8 589.0,609.4 598.0,614.0 608.0,609.7 617.0,610.8 626.0,616.1 636.0,620.0 645.0,627.6 654.0,647.4 664.0,659.3 673.0,656.5 682.0,651.8 692.0,660.1 701.0,669.3 710.0,667.9 720.0,670.3 729.0,672.7 738.0,674.5 748.0,673.4 757.0,679.5 766.0,679.1 776.0,672.7 785.0,669.4 795.0,657.6 804.0,660.7 813.0,663.8 823.0,668.0 832.0,674.7 841.0,680.7 851.0,682.0 860.0,680.7 869.0,678.4 879.0,678.9 888.0,681.0 897.0,684.7 907.0,680.5 916.0,672.8 925.0,672.4 935.0,665.4 944.0,657.4 953.0,649.9 963.0,655.7 972.0,665.3 981.0,668.0 991.0,669.7 1000.0,676.9 1010.0,665.2 1019.0,652.7 1028.0,644.7 1038.0,635.6 1047.0,631.5 1056.0,625.4 1066.0,616.0" fill="none" stroke="#ffffff" stroke-width="1" />
<polyline points="0.0,677.9 9.0,674.9 19.0,672.7 28.0,671.4 37.0,667.8 47.0,663.0 56.0,655.4 65.0,648.7 75.0,641.8 84.0,633.8 93.0,626.2 103.0,620.1 112.0,615.8 122.0,614.7 131.0,622.5 140.0,632.3 150.0,639.1 159.0,646.1 168.0,653.4 178.0,660.2 187.0,665.8 196.0,668.8 206.0,672.4 215.0,675.4 224.0,677.9 234.0,675.4 243.0,672.5 252.0,671.1 262.0,671.4 271.0,674.0 280.0,676.9 290.0,679.4 299.0,680.4 308.0,680.5 318.0,680.9 327.0,682.0 337.0,683.6 346.0,685.3 355.0,684.5 365.0,680.2 374.0,676.9 383.0,674.5 393.0,667.7 402.0,660.1 411.0,652.3 421.0,645.7 430.0,641.3 439.0,638.0 449.0,635.0 458.0,633.4 467.0,635.1 477.0,640.5 486.0,645.3 495.0,646.7 505.0,650.0 514.0,651.1 523.0,650.6 533.0,645.4 542.0,638.9 552.0,633.6 561.0,630.6 570.0,626.7 580.0,622.1 589.0,617.9 598.0,616.6 608.0,614.3 617.0,613.1 626.0,614.1 636.0,616.1 645.0,619.9 654.0,629.1 664.0,639.1 673.0,644.9 682.0,647.2 692.0,651.5 701.0,657.4 710.0,660.9 720.0,664.0 729.0,666.9 738.0,669.5 748.0,670.8 757.0,673.7 766.0,675.5 776.0,674.6 785.0,672.8 795.0,667.7 804.0,665.4 813.0,664.9 823.0,665.9 832.0,668.9 841.0,672.8 851.0,675.9 860.0,677.5 869.0,677.8 879.0,678.1 888.0,679.1 897.0,681.0 907.0,680.8 916.0,678.1 925.0,676.2 935.0,672.6 944.0,667.5 953.0,661.7 963.0,659.7 972.0,661.5 981.0,663.7 991.0,665.7 1000.0,669.4 1010.0,668.0 1019.0,662.9 1028.0,656.8 1038.0,649.7 1047.0,643.7 1056.0,637.6 1066.0,630.4" fill="none" stroke="#ffff00" stroke-width="1" />
<polyline points="0.0,679.8 9.0,664.5 19.0,656.2 28.0,661.1 37.0,654.5 47.0,641.3 56.0,607.2 65.0,610.2 75.0,603.0 84.0,585.9 93.0,580.5 103.0,583.3 112.0,590.6 122.0,608.0 131.0,669.2 140.0,690.7 150.0,680.1 159.0,688.1 168.0,697.6 178.0,700.5 187.0,699.6 196.0,686.9 206.0,693.9 215.0,693.2 224.0,693.5 234.0,660.4 243.0,655.1 252.0,662.7 262.0,673.1 271.0,689.3 280.0,694.8 290.0,694.1 299.0,686.2 308.0,681.2 318.0,683.5 327.0,688.2 337.0,693.3 346.0,695.7 355.0,679.7 365.0,654.1 374.0,657.6 383.0,659.5 393.0,627.3 402.0,614.3 411.0,605.5 421.0,606.3 430.0,614.7 439.0,618.7 449.0,617.0 458.0,623.5 467.0,645.3 477.0,673.2 486.0,673.8 495.0,655.5 505.0,669.5 514.0,657.7 523.0,647.5 533.0,614.0 542.0,599.9 552.0,601.9 561.0,612.8 570.0,603.5 580.0,594.1 589.0,592.5 598.0,608.8 608.0,600.5 617.0,606.2 626.0,620.1 636.0,627.8 645.0,642.9 654.0,684.0 664.0,699.6 673.0,679.5 682.0,661.0 692.0,677.3 701.0,693.0 710.0,681.8 720.0,682.8 729.0,684.3 738.0,684.6 748.0,678.7 757.0,691.2 766.0,686.4 776.0,668.9 785.0,662.4 795.0,637.2 804.0,651.4 813.0,661.7 823.0,672.2 832.0,686.4 841.0,696.5 851.0,694.2 860.0,687.1 869.0,679.6 879.0,680.4 888.0,684.8 897.0,692.1 907.0,679.9 916.0,662.0 925.0,664.7 935.0,651.1 944.0,637.1 953.0,626.4 963.0,647.8 972.0,672.7 981.0,676.7 991.0,677.7 1000.0,691.8 1010.0,659.4 1019.0,632.3 1028.0,620.4 1038.0,607.2 1047.0,607.2 1056.0,601.2 1066.0,587.1" fill="none" stroke="#ff00ff" stroke-width="1" />
</g>
</svg>
<svg width="1151" height="739" viewBox="0 0 1151 739" style="will-change:transform">
<g shape-rendering="crispEdges" fill="none" stroke="#c00000">
  <!-- right axis vertical -->
  <line x1="1099.5" y1="0" x2="1099.5" y2="703"/>
  <line x1="1150.5" y1="0" x2="1150.5" y2="739"/>
  <!-- separators -->
  <line x1="0" y1="427.5" x2="1151" y2="427.5"/>
  <line x1="0" y1="561.5" x2="1151" y2="561.5"/>
  <line x1="0" y1="703.5" x2="1151" y2="703.5"/>
  <line x1="0" y1="719.5" x2="1151" y2="719.5"/>
  <line x1="0" y1="736.5" x2="1151" y2="736.5"/>
  <!-- ticks main -->
  <line x1="1099" y1="42.5" x2="1105" y2="42.5"/>
  <line x1="1099" y1="162.5" x2="1105" y2="162.5"/>
  <line x1="1099" y1="270.5" x2="1105" y2="270.5"/>
  <line x1="1099" y1="369.5" x2="1105" y2="369.5"/>
  <!-- ticks vol -->
  <line x1="1099" y1="480.5" x2="1105" y2="480.5"/>
  <line x1="1099" y1="489.5" x2="1101" y2="489.5"/>
  <line x1="1099" y1="500.5" x2="1103" y2="500.5"/>
  <line x1="1099" y1="510.5" x2="1101" y2="510.5"/>
  <line x1="1099" y1="519.5" x2="1105" y2="519.5"/>
  <!-- KDJ axis box -->
  <rect x="1100.5" y="562.5" width="49" height="140"/>
  <!-- X10 box -->
  <rect x="1100.5" y="545.5" width="23" height="14"/>
  <!-- top icons -->
  <polygon points="1077.5,1.5 1083,7 1077.5,12.5 1072,7"/>
  <rect x="1087.5" y="1.5" width="9" height="10"/>
  <line x1="1093.5" y1="1" x2="1093.5" y2="12"/>
</g>
<!-- current price box -->
<rect x="1099.5" y="96.5" width="51" height="16" fill="#000080" stroke="#c00000" shape-rendering="crispEdges"/>
<text x="1101" y="108" fill="#e0e0e0">32.59</text>
<!-- axis labels -->
<g fill="#ff3232" text-anchor="end">
<text x="1148" y="47">34.42</text>
<text x="1148" y="167">31.29</text>
<text x="1148" y="275">28.45</text>
<text x="1148" y="374">25.86</text>
<text x="1148" y="612">80.00</text>
<text x="1148" y="644">50.00</text>
<text x="1148" y="676">20.00</text>
<text x="1148" y="698">0.00</text>
</g>
<text x="1102" y="557" fill="#ff3232">X10</text>
<!-- title -->
<text x="-3" y="11" fill="#c0c0c0" class="cjk">小康股份(日线.前复权)</text>
<g shape-rendering="crispEdges" stroke="#c00000" fill="none">
<line x1="205.5" y1="703" x2="205.5" y2="719"/>
<line x1="392.5" y1="703" x2="392.5" y2="719"/>
<line x1="541.5" y1="703" x2="541.5" y2="719"/>
<line x1="747.5" y1="703" x2="747.5" y2="719"/>
<line x1="859.5" y1="703" x2="859.5" y2="719"/>
<line x1="1027.5" y1="703" x2="1027.5" y2="719"/>
<line x1="252.5" y1="704" x2="252.5" y2="706"/>
<line x1="300.5" y1="704" x2="300.5" y2="706"/>
<line x1="430.5" y1="704" x2="430.5" y2="706"/>
<line x1="467.5" y1="704" x2="467.5" y2="706"/>
<line x1="504.5" y1="704" x2="504.5" y2="706"/>
<line x1="593.5" y1="704" x2="593.5" y2="706"/>
<line x1="645.5" y1="704" x2="645.5" y2="706"/>
<line x1="697.5" y1="704" x2="697.5" y2="706"/>
<line x1="775.5" y1="704" x2="775.5" y2="706"/>
<line x1="804.5" y1="704" x2="804.5" y2="706"/>
<line x1="832.5" y1="704" x2="832.5" y2="706"/>
<line x1="901.5" y1="704" x2="901.5" y2="706"/>
<line x1="943.5" y1="704" x2="943.5" y2="706"/>
<line x1="985.5" y1="704" x2="985.5" y2="706"/>
<line x1="25.5" y1="719" x2="25.5" y2="737"/>
<line x1="55.5" y1="719" x2="55.5" y2="737"/>
<line x1="56.5" y1="719" x2="56.5" y2="737"/>
<line x1="87.5" y1="719" x2="87.5" y2="737"/>
<line x1="119.5" y1="719" x2="119.5" y2="737"/>
<line x1="145.5" y1="719" x2="145.5" y2="737"/>
<line x1="171.5" y1="719" x2="171.5" y2="737"/>
<line x1="197.5" y1="719" x2="197.5" y2="737"/>
<line x1="229.5" y1="719" x2="229.5" y2="737"/>
<line x1="261.5" y1="719" x2="261.5" y2="737"/>
<line x1="281.5" y1="719" x2="281.5" y2="737"/>
<line x1="301.5" y1="719" x2="301.5" y2="737"/>
<line x1="327.5" y1="719" x2="327.5" y2="737"/>
<line x1="353.5" y1="719" x2="353.5" y2="737"/>
<line x1="379.5" y1="719" x2="379.5" y2="737"/>
<line x1="429.5" y1="719" x2="429.5" y2="737"/>
<line x1="455.5" y1="719" x2="455.5" y2="737"/>
<line x1="475.5" y1="719" x2="475.5" y2="737"/>
<line x1="501.5" y1="719" x2="501.5" y2="737"/>
<line x1="527.5" y1="719" x2="527.5" y2="737"/>
<line x1="553.5" y1="719" x2="553.5" y2="737"/>
<line x1="579.5" y1="719" x2="579.5" y2="737"/>
<line x1="605.5" y1="719" x2="605.5" y2="737"/>
<line x1="637.5" y1="719" x2="637.5" y2="737"/>
<line x1="663.5" y1="719" x2="663.5" y2="737"/>
<line x1="695.5" y1="719" x2="695.5" y2="737"/>
<line x1="1099.5" y1="703" x2="1099.5" y2="737"/>
<line x1="1115.5" y1="719" x2="1115.5" y2="737"/>
<line x1="1131.5" y1="719" x2="1131.5" y2="737"/>
<line x1="39.5" y1="737" x2="39.5" y2="739"/>
<line x1="95.5" y1="737" x2="95.5" y2="739"/>
</g>
<rect x="0" y="720" width="25" height="16" fill="#2a2a2a"/>
<text x="394" y="716" fill="#ff3232">10</text>
<rect x="325.5" y="703.5" width="78" height="15" fill="#000080" stroke="#c00000" shape-rendering="crispEdges"/>
<g fill="#ff00ff" shape-rendering="crispEdges">
<rect x="55" y="14" width="1" height="1"/><rect x="58" y="14" width="1" height="1"/><rect x="55" y="17" width="1" height="1"/><rect x="58" y="17" width="1" height="1"/><rect x="56" y="15" width="2" height="2"/>
<rect x="92" y="14" width="1" height="1"/><rect x="95" y="14" width="1" height="1"/><rect x="92" y="17" width="1" height="1"/><rect x="95" y="17" width="1" height="1"/><rect x="93" y="15" width="2" height="2"/>
<rect x="279" y="14" width="1" height="1"/><rect x="282" y="14" width="1" height="1"/><rect x="279" y="17" width="1" height="1"/><rect x="282" y="17" width="1" height="1"/><rect x="280" y="15" width="2" height="2"/>
<rect x="298" y="14" width="1" height="1"/><rect x="301" y="14" width="1" height="1"/><rect x="298" y="17" width="1" height="1"/><rect x="301" y="17" width="1" height="1"/><rect x="299" y="15" width="2" height="2"/>
<rect x="392" y="14" width="1" height="1"/><rect x="395" y="14" width="1" height="1"/><rect x="392" y="17" width="1" height="1"/><rect x="395" y="17" width="1" height="1"/><rect x="393" y="15" width="2" height="2"/>
<rect x="457" y="14" width="1" height="1"/><rect x="460" y="14" width="1" height="1"/><rect x="457" y="17" width="1" height="1"/><rect x="460" y="17" width="1" height="1"/><rect x="458" y="15" width="2" height="2"/>
<rect x="569" y="14" width="1" height="1"/><rect x="572" y="14" width="1" height="1"/><rect x="569" y="17" width="1" height="1"/><rect x="572" y="17" width="1" height="1"/><rect x="570" y="15" width="2" height="2"/>
<rect x="579" y="14" width="1" height="1"/><rect x="582" y="14" width="1" height="1"/><rect x="579" y="17" width="1" height="1"/><rect x="582" y="17" width="1" height="1"/><rect x="580" y="15" width="2" height="2"/>
<rect x="597" y="14" width="1" height="1"/><rect x="600" y="14" width="1" height="1"/><rect x="597" y="17" width="1" height="1"/><rect x="600" y="17" width="1" height="1"/><rect x="598" y="15" width="2" height="2"/>
<rect x="616" y="14" width="1" height="1"/><rect x="619" y="14" width="1" height="1"/><rect x="616" y="17" width="1" height="1"/><rect x="619" y="17" width="1" height="1"/><rect x="617" y="15" width="2" height="2"/>
<rect x="653" y="14" width="1" height="1"/><rect x="656" y="14" width="1" height="1"/><rect x="653" y="17" width="1" height="1"/><rect x="656" y="17" width="1" height="1"/><rect x="654" y="15" width="2" height="2"/>
<rect x="691" y="14" width="1" height="1"/><rect x="694" y="14" width="1" height="1"/><rect x="691" y="17" width="1" height="1"/><rect x="694" y="17" width="1" height="1"/><rect x="692" y="15" width="2" height="2"/>
<rect x="812" y="14" width="1" height="1"/><rect x="815" y="14" width="1" height="1"/><rect x="812" y="17" width="1" height="1"/><rect x="815" y="17" width="1" height="1"/><rect x="813" y="15" width="2" height="2"/>
<rect x="906" y="14" width="1" height="1"/><rect x="909" y="14" width="1" height="1"/><rect x="906" y="17" width="1" height="1"/><rect x="909" y="17" width="1" height="1"/><rect x="907" y="15" width="2" height="2"/>
<rect x="915" y="14" width="1" height="1"/><rect x="918" y="14" width="1" height="1"/><rect x="915" y="17" width="1" height="1"/><rect x="918" y="17" width="1" height="1"/><rect x="916" y="15" width="2" height="2"/>
<rect x="1065" y="14" width="1" height="1"/><rect x="1068" y="14" width="1" height="1"/><rect x="1065" y="17" width="1" height="1"/><rect x="1068" y="17" width="1" height="1"/><rect x="1066" y="15" width="2" height="2"/>
<rect x="158" y="13" width="1" height="1"/><rect x="162" y="13" width="1" height="1"/><rect x="158" y="17" width="1" height="1"/><rect x="162" y="17" width="1" height="1"/><rect x="159" y="14" width="3" height="3"/>
<rect x="242" y="13" width="1" height="1"/><rect x="246" y="13" width="1" height="1"/><rect x="242" y="17" width="1" height="1"/><rect x="246" y="17" width="1" height="1"/><rect x="243" y="14" width="3" height="3"/>
<rect x="317" y="13" width="1" height="1"/><rect x="321" y="13" width="1" height="1"/><rect x="317" y="17" width="1" height="1"/><rect x="321" y="17" width="1" height="1"/><rect x="318" y="14" width="3" height="3"/>
<rect x="364" y="13" width="1" height="1"/><rect x="368" y="13" width="1" height="1"/><rect x="364" y="17" width="1" height="1"/><rect x="368" y="17" width="1" height="1"/><rect x="365" y="14" width="3" height="3"/>
<rect x="401" y="13" width="1" height="1"/><rect x="405" y="13" width="1" height="1"/><rect x="401" y="17" width="1" height="1"/><rect x="405" y="17" width="1" height="1"/><rect x="402" y="14" width="3" height="3"/>
<rect x="438" y="13" width="1" height="1"/><rect x="442" y="13" width="1" height="1"/><rect x="438" y="17" width="1" height="1"/><rect x="442" y="17" width="1" height="1"/><rect x="439" y="14" width="3" height="3"/>
<rect x="504" y="13" width="1" height="1"/><rect x="508" y="13" width="1" height="1"/><rect x="504" y="17" width="1" height="1"/><rect x="508" y="17" width="1" height="1"/><rect x="505" y="14" width="3" height="3"/>
<rect x="765" y="13" width="1" height="1"/><rect x="769" y="13" width="1" height="1"/><rect x="765" y="17" width="1" height="1"/><rect x="769" y="17" width="1" height="1"/><rect x="766" y="14" width="3" height="3"/>
<rect x="775" y="13" width="1" height="1"/><rect x="779" y="13" width="1" height="1"/><rect x="775" y="17" width="1" height="1"/><rect x="779" y="17" width="1" height="1"/><rect x="776" y="14" width="3" height="3"/>
<rect x="784" y="13" width="1" height="1"/><rect x="788" y="13" width="1" height="1"/><rect x="784" y="17" width="1" height="1"/><rect x="788" y="17" width="1" height="1"/><rect x="785" y="14" width="3" height="3"/>
<rect x="924" y="13" width="1" height="1"/><rect x="928" y="13" width="1" height="1"/><rect x="924" y="17" width="1" height="1"/><rect x="928" y="17" width="1" height="1"/><rect x="925" y="14" width="3" height="3"/>
<rect x="952" y="13" width="1" height="1"/><rect x="956" y="13" width="1" height="1"/><rect x="952" y="17" width="1" height="1"/><rect x="956" y="17" width="1" height="1"/><rect x="953" y="14" width="3" height="3"/>
<rect x="962" y="13" width="1" height="1"/><rect x="966" y="13" width="1" height="1"/><rect x="962" y="17" width="1" height="1"/><rect x="966" y="17" width="1" height="1"/><rect x="963" y="14" width="3" height="3"/>
<rect x="1018" y="13" width="1" height="1"/><rect x="1022" y="13" width="1" height="1"/><rect x="1018" y="17" width="1" height="1"/><rect x="1022" y="17" width="1" height="1"/><rect x="1019" y="14" width="3" height="3"/>
<rect x="1046" y="13" width="1" height="1"/><rect x="1050" y="13" width="1" height="1"/><rect x="1046" y="17" width="1" height="1"/><rect x="1050" y="17" width="1" height="1"/><rect x="1047" y="14" width="3" height="3"/>
</g>
<g fill="#c8c800" shape-rendering="crispEdges"><rect x="1063" y="546" width="1" height="1"/><rect x="1065" y="546" width="1" height="1"/><rect x="1067" y="546" width="1" height="1"/><rect x="1069" y="546" width="1" height="1"/><rect x="1063" y="548" width="1" height="1"/><rect x="1069" y="548" width="1" height="1"/><rect x="1069" y="550" width="1" height="1"/><rect x="1069" y="552" width="1" height="1"/></g>
<polygon points="126,0 130,0 132,2 132,4.5 129.5,4.5 129.5,9 125,9 125,4.5 122,4.5 122,2" fill="#ff0000"/>
<polygon points="403,317 408,322.5 405,322.5 405,328 401,328 401,322.5 398,322.5" fill="#ff0000"/>
<polygon points="683,167 688,172.5 685,172.5 685,178 681,178 681,172.5 678,172.5" fill="#ff0000"/>
<polygon points="936,365 941,370.5 938,370.5 938,376 934,376 934,370.5 931,370.5" fill="#ff0000"/>
<polygon points="663.5,160.5 666.5,160.5 666.5,165.5 669.5,165.5 665,170.5 660.5,165.5 663.5,165.5" fill="none" stroke="#00ff00" stroke-width="1"/>
<polygon points="691.5,144.5 694.5,144.5 694.5,149.5 697.5,149.5 693,154.5 688.5,149.5 691.5,149.5" fill="none" stroke="#00ff00" stroke-width="1"/>
<polygon points="971.5,364.5 974.5,364.5 974.5,369.5 977.5,369.5 973,374.5 968.5,369.5 971.5,369.5" fill="none" stroke="#00ff00" stroke-width="1"/>
<polygon points="907.5,374 911,377 911,380 904,380 904,377" fill="#ff8040"/>
<polygon points="1011,409 1016,415 1006,415" fill="#ff0000"/>
<g stroke="#c0c0c0" fill="none" stroke-width="1">
<polyline points="93.5,52.5 97,53.5 100,54.5 105,55.5"/>
<polyline points="96,50.5 93.5,52 95.5,55"/>
<line x1="1011" y1="407.5" x2="1022" y2="407.5"/>
<polyline points="1014,405 1011,407.5 1014,410"/>
</g><g fill="#ff3232">
<text x="1" y="716" class="cjk">2016年</text>
<text x="207" y="716">9</text>
<text x="543" y="716">11</text>
<text x="749" y="716">12</text>
<text x="861" y="716">1</text>
<text x="1029" y="716">2</text>
</g>
<text x="327" y="716" fill="#e0e0e0">2016/09/22/<tspan class="cjk">四</tspan></text>
<text x="1111" y="715" fill="#c0c0c0" class="cjk">日线</text>
<text x="1105" y="732" fill="#e0e0e0">+</text>
<text x="1120.5" y="732" fill="#e0e0e0">−</text>
<text x="1137" y="732" fill="#e0e0e0">0</text>
<g fill="#c0c0c0" class="cjk">
<text x="-3" y="733">指标</text>
<text x="29" y="733">模板</text>
<text x="60" y="733">全部</text>
</g>

<text x="134.51" y="10" fill="#ffffff" style="font-family:'Liberation Sans',sans-serif;font-size:12px" textLength="60.61" lengthAdjust="spacingAndGlyphs">MA5: 25.90</text>
<text x="199.00" y="10" fill="#ffff00" style="font-family:'Liberation Sans',sans-serif;font-size:12px" textLength="68.05" lengthAdjust="spacingAndGlyphs">MA10: 25.70</text>
<text x="271.53" y="10" fill="#ff00ff" style="font-family:'Liberation Sans',sans-serif;font-size:12px" textLength="66.32" lengthAdjust="spacingAndGlyphs">MA30: 26.31</text>
<text x="343.41" y="10" fill="#00ff00" style="font-family:'Liberation Sans',sans-serif;font-size:12px" textLength="67.13" lengthAdjust="spacingAndGlyphs">MA60: 28.07</text>
<text x="83.30" y="440" fill="#ffffff" style="font-family:'Liberation Sans',sans-serif;font-size:12px" textLength="87.24" lengthAdjust="spacingAndGlyphs">VVOL: 33377.02</text>
<text x="181.70" y="440" fill="#ffff00" style="font-family:'Liberation Sans',sans-serif;font-size:12px" textLength="107.00" lengthAdjust="spacingAndGlyphs">VOLUME: 10847.53</text>
<text x="293.00" y="440" fill="#ffff00" style="font-family:'Liberation Sans',sans-serif;font-size:12px" textLength="81.10" lengthAdjust="spacingAndGlyphs">MA5: 15047.00</text>
<text x="378.60" y="440" fill="#ff00ff" style="font-family:'Liberation Sans',sans-serif;font-size:12px" textLength="88.28" lengthAdjust="spacingAndGlyphs">MA10: 20939.20</text>
<text x="58.28" y="574" fill="#ffffff" style="font-family:'Liberation Sans',sans-serif;font-size:12px" textLength="45.52" lengthAdjust="spacingAndGlyphs">K: 71.95</text>
<text x="108.59" y="574" fill="#ffff00" style="font-family:'Liberation Sans',sans-serif;font-size:12px" textLength="45.68" lengthAdjust="spacingAndGlyphs">D: 58.74</text>
<text x="160.40" y="574" fill="#ff00ff" style="font-family:'Liberation Sans',sans-serif;font-size:12px" textLength="42.70" lengthAdjust="spacingAndGlyphs">J: 98.36</text>
<text x="1114.00" y="485" fill="#ff3232" style="font-family:'Liberation Sans',sans-serif;font-size:12px" textLength="34.69" lengthAdjust="spacingAndGlyphs">20000</text>
<text x="1112.93" y="524" fill="#ff3232" style="font-family:'Liberation Sans',sans-serif;font-size:12px" textLength="35.77" lengthAdjust="spacingAndGlyphs">10000</text>
<text x="1109.66" y="590" fill="#ff3232" style="font-family:'Liberation Sans',sans-serif;font-size:12px" textLength="38.33" lengthAdjust="spacingAndGlyphs">100.00</text>
<text x="-3.30" y="440" fill="#c0c0c0" style="font-family:'Liberation Sans',sans-serif;font-size:12px" textLength="81.65" lengthAdjust="spacingAndGlyphs">VOL-TDX(5,10)</text>
<text x="-4.23" y="574" fill="#c0c0c0" style="font-family:'Liberation Sans',sans-serif;font-size:12px" textLength="58.79" lengthAdjust="spacingAndGlyphs">KDJ(9,3,3)</text>
<text x="108.00" y="61" fill="#c0c0c0" style="font-family:'Liberation Sans',sans-serif;font-size:12px" textLength="30.03" lengthAdjust="spacingAndGlyphs">34.20</text>
<text x="1024.00" y="413" fill="#c0c0c0" style="font-family:'Liberation Sans',sans-serif;font-size:12px" textLength="30.23" lengthAdjust="spacingAndGlyphs">24.85</text>
<text x="91.20" y="732" fill="#c8c8c8" style="font-family:'Liberation Mono',monospace;font-size:12px" textLength="24.94" lengthAdjust="spacingAndGlyphs">MACD</text>
<text x="122.56" y="732" fill="#c8c8c8" style="font-family:'Liberation Mono',monospace;font-size:12px" textLength="20.42" lengthAdjust="spacingAndGlyphs">DMI</text>
<text x="148.89" y="732" fill="#c8c8c8" style="font-family:'Liberation Mono',monospace;font-size:12px" textLength="19.76" lengthAdjust="spacingAndGlyphs">DMA</text>
<text x="174.42" y="732" fill="#c8c8c8" style="font-family:'Liberation Mono',monospace;font-size:12px" textLength="21.18" lengthAdjust="spacingAndGlyphs">FSL</text>
<text x="201.90" y="732" fill="#c8c8c8" style="font-family:'Liberation Mono',monospace;font-size:12px" textLength="24.34" lengthAdjust="spacingAndGlyphs">TRIX</text>
<text x="232.72" y="732" fill="#c8c8c8" style="font-family:'Liberation Mono',monospace;font-size:12px" textLength="25.42" lengthAdjust="spacingAndGlyphs">BRAR</text>
<text x="265.80" y="732" fill="#c8c8c8" style="font-family:'Liberation Mono',monospace;font-size:12px" textLength="13.58" lengthAdjust="spacingAndGlyphs">CR</text>
<text x="285.90" y="732" fill="#c8c8c8" style="font-family:'Liberation Mono',monospace;font-size:12px" textLength="13.07" lengthAdjust="spacingAndGlyphs">VR</text>
<text x="305.40" y="732" fill="#c8c8c8" style="font-family:'Liberation Mono',monospace;font-size:12px" textLength="18.96" lengthAdjust="spacingAndGlyphs">OBV</text>
<text x="332.10" y="732" fill="#c8c8c8" style="font-family:'Liberation Mono',monospace;font-size:12px" textLength="18.42" lengthAdjust="spacingAndGlyphs">ASI</text>
<text x="357.10" y="732" fill="#c8c8c8" style="font-family:'Liberation Mono',monospace;font-size:12px" textLength="19.35" lengthAdjust="spacingAndGlyphs">EMV</text>
<text x="384.30" y="732" fill="#c8c8c8" style="font-family:'Liberation Mono',monospace;font-size:12px" textLength="42.35" lengthAdjust="spacingAndGlyphs">VOL-TDX</text>
<text x="432.77" y="732" fill="#c8c8c8" style="font-family:'Liberation Mono',monospace;font-size:12px" textLength="20.10" lengthAdjust="spacingAndGlyphs">RSI</text>
<text x="459.70" y="732" fill="#c8c8c8" style="font-family:'Liberation Mono',monospace;font-size:12px" textLength="13.17" lengthAdjust="spacingAndGlyphs">WR</text>
<text x="479.30" y="732" fill="#c8c8c8" style="font-family:'Liberation Mono',monospace;font-size:12px" textLength="18.86" lengthAdjust="spacingAndGlyphs">SAR</text>
<text x="505.04" y="732" fill="#20e0e0" style="font-family:'Liberation Mono',monospace;font-size:12px" textLength="20.85" lengthAdjust="spacingAndGlyphs">KDJ</text>
<text x="531.40" y="732" fill="#c8c8c8" style="font-family:'Liberation Mono',monospace;font-size:12px" textLength="19.14" lengthAdjust="spacingAndGlyphs">CCI</text>
<text x="557.21" y="732" fill="#c8c8c8" style="font-family:'Liberation Mono',monospace;font-size:12px" textLength="19.34" lengthAdjust="spacingAndGlyphs">ROC</text>
<text x="582.80" y="732" fill="#c8c8c8" style="font-family:'Liberation Mono',monospace;font-size:12px" textLength="20.79" lengthAdjust="spacingAndGlyphs">MTM</text>
<text x="609.14" y="732" fill="#c8c8c8" style="font-family:'Liberation Mono',monospace;font-size:12px" textLength="24.86" lengthAdjust="spacingAndGlyphs">BOLL</text>
<text x="640.93" y="732" fill="#c8c8c8" style="font-family:'Liberation Mono',monospace;font-size:12px" textLength="18.73" lengthAdjust="spacingAndGlyphs">PSY</text>
<text x="666.90" y="732" fill="#c8c8c8" style="font-family:'Liberation Mono',monospace;font-size:12px" textLength="24.94" lengthAdjust="spacingAndGlyphs">MCST</text>
</svg>
</body></html>
